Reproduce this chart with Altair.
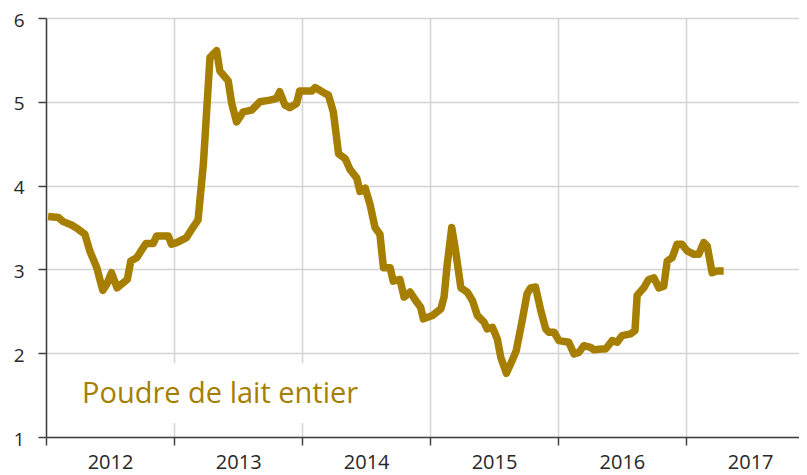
import altair as alt
import pandas as pd

dates = [
    "2012-01-07", "2012-02-05", "2012-02-19", "2012-03-14", "2012-04-02", "2012-04-21",
    "2012-05-05", "2012-05-25", "2012-06-11", "2012-06-22", "2012-07-06", "2012-07-22",
    "2012-08-20", "2012-08-30", "2012-09-16", "2012-09-25", "2012-10-12", "2012-11-02",
    "2012-11-12", "2012-12-15", "2012-12-24", "2013-01-08", "2013-02-05", "2013-02-20",
    "2013-03-10", "2013-03-25", "2013-04-13", "2013-05-02", "2013-05-11", "2013-06-04",
    "2013-06-14", "2013-06-28", "2013-07-17", "2013-08-10", "2013-09-02", "2013-10-01",
    "2013-10-20", "2013-10-29", "2013-11-13", "2013-11-27", "2013-12-16", "2013-12-25",
    "2014-01-29", "2014-02-07", "2014-03-03", "2014-03-17", "2014-03-31", "2014-04-15",
    "2014-05-04", "2014-05-18", "2014-06-06", "2014-06-15", "2014-06-30", "2014-07-14",
    "2014-07-28", "2014-08-11", "2014-08-21", "2014-09-09", "2014-09-18", "2014-10-07",
    "2014-10-19", "2014-11-05", "2014-11-24", "2014-12-05", "2014-12-13", "2015-01-08",
    "2015-02-01", "2015-02-10", "2015-02-19", "2015-03-04", "2015-03-15", "2015-03-30",
    "2015-04-17", "2015-05-02", "2015-05-16", "2015-06-04", "2015-06-13", "2015-06-28",
    "2015-07-12", "2015-07-22", "2015-08-07", "2015-08-24", "2015-09-04", "2015-09-21",
    "2015-10-05", "2015-10-15", "2015-10-29", "2015-11-13", "2015-11-27", "2015-12-06",
    "2015-12-21", "2016-01-04", "2016-02-01", "2016-02-16", "2016-03-01", "2016-03-15",
    "2016-04-03", "2016-04-13", "2016-05-06", "2016-05-16", "2016-06-04", "2016-06-18",
    "2016-07-02", "2016-07-26", "2016-08-08", "2016-08-14", "2016-09-02", "2016-09-16",
    "2016-10-01", "2016-10-15", "2016-10-29", "2016-11-08", "2016-11-22", "2016-12-06",
    "2016-12-20", "2017-01-04", "2017-01-23", "2017-02-06", "2017-02-20", "2017-03-02",
    "2017-03-16", "2017-03-30", "2017-04-18",
]
prices = [
    3.63, 3.62, 3.57, 3.53, 3.48, 3.42,
    3.22, 3.02, 2.75, 2.82, 2.96, 2.78,
    2.88, 3.10, 3.14, 3.20, 3.31, 3.31,
    3.40, 3.40, 3.30, 3.32, 3.38, 3.48,
    3.59, 4.25, 5.53, 5.61, 5.37, 5.25,
    4.98, 4.76, 4.88, 4.90, 5.00, 5.02,
    5.04, 5.12, 4.96, 4.93, 4.98, 5.13,
    5.13, 5.17, 5.11, 5.08, 4.88, 4.38,
    4.32, 4.19, 4.09, 3.93, 3.97, 3.77,
    3.50, 3.42, 3.02, 3.02, 2.86, 2.88,
    2.67, 2.73, 2.61, 2.55, 2.41, 2.45,
    2.53, 2.67, 3.06, 3.50, 3.22, 2.78,
    2.73, 2.63, 2.45, 2.37, 2.29, 2.31,
    2.17, 1.95, 1.76, 1.92, 2.03, 2.39,
    2.71, 2.78, 2.79, 2.51, 2.29, 2.25,
    2.25, 2.15, 2.13, 1.99, 2.01, 2.09,
    2.07, 2.04, 2.05, 2.05, 2.15, 2.13,
    2.21, 2.23, 2.27, 2.69, 2.78, 2.88,
    2.90, 2.78, 2.80, 3.10, 3.14, 3.30,
    3.30, 3.22, 3.18, 3.18, 3.32, 3.28,
    2.96, 2.98, 2.98,
]
year_ticks = [2012, 2013, 2014, 2015, 2016, 2017]
y_ticks = [1, 2, 3, 4, 5, 6]
series_label = "Poudre de lait entier"

COLOR = "#A67F00"
FONT = "Open Sans"

df = pd.DataFrame({"date": dates, "price": prices})

x_enc = alt.X(
    "date:T",
    title=None,
    scale=alt.Scale(
        type="utc",
        domain=[alt.DateTime(year=2012, month=1, date=1, utc=True),
                alt.DateTime(year=2017, month=11, date=19, utc=True)],
    ),
    axis=alt.Axis(
        values=[alt.DateTime(year=y, month=1, date=1, utc=True) for y in year_ticks],
        format="%Y",
        formatType="utc",
        labelOffset=64,
        labelOverlap=False,
        labelFlush=False,
        labelBound=False,
        tickSize=8,
        labelPadding=7,
        labelFontSize=20,
        grid=True,
    ),
)
y_enc = alt.Y(
    "price:Q",
    title=None,
    scale=alt.Scale(domain=[1, 6], nice=False, zero=False),
    axis=alt.Axis(values=y_ticks, tickSize=8, labelPadding=14, labelOffset=2,
                  labelFontSize=19, grid=True),
)

line = alt.Chart(df).mark_line(
    color=COLOR, strokeWidth=7.5, strokeJoin="round", strokeCap="butt"
).encode(x=x_enc, y=y_enc)

box = alt.Chart(df).mark_rect(color="white").encode(
    x=alt.value(2), x2=alt.value(320), y=alt.value(345), y2=alt.value(405)
)

label = alt.Chart(pd.DataFrame({"t": [series_label]})).mark_text(
    color=COLOR, font=FONT, fontSize=29, align="left", baseline="alphabetic"
).encode(text="t:N", x=alt.value(36), y=alt.value(385))

chart = (
    alt.layer(line, box, label)
    .properties(
        width=753,
        height=419,
        autosize=alt.AutoSizeParams(type="none"),
        padding={"left": 38, "top": 10, "right": 0, "bottom": 38},
    )
    .configure_view(stroke=None)
    .configure_axis(
        labelFont=FONT,
        labelColor="#262626",
        domainColor="#404040",
        domainWidth=1.5,
        tickColor="#404040",
        tickWidth=1.5,
        gridColor="#d4d4d4",
        gridWidth=1.5,
    )
)

chart.save("out.html", embed_options={"renderer": "svg", "actions": False})
